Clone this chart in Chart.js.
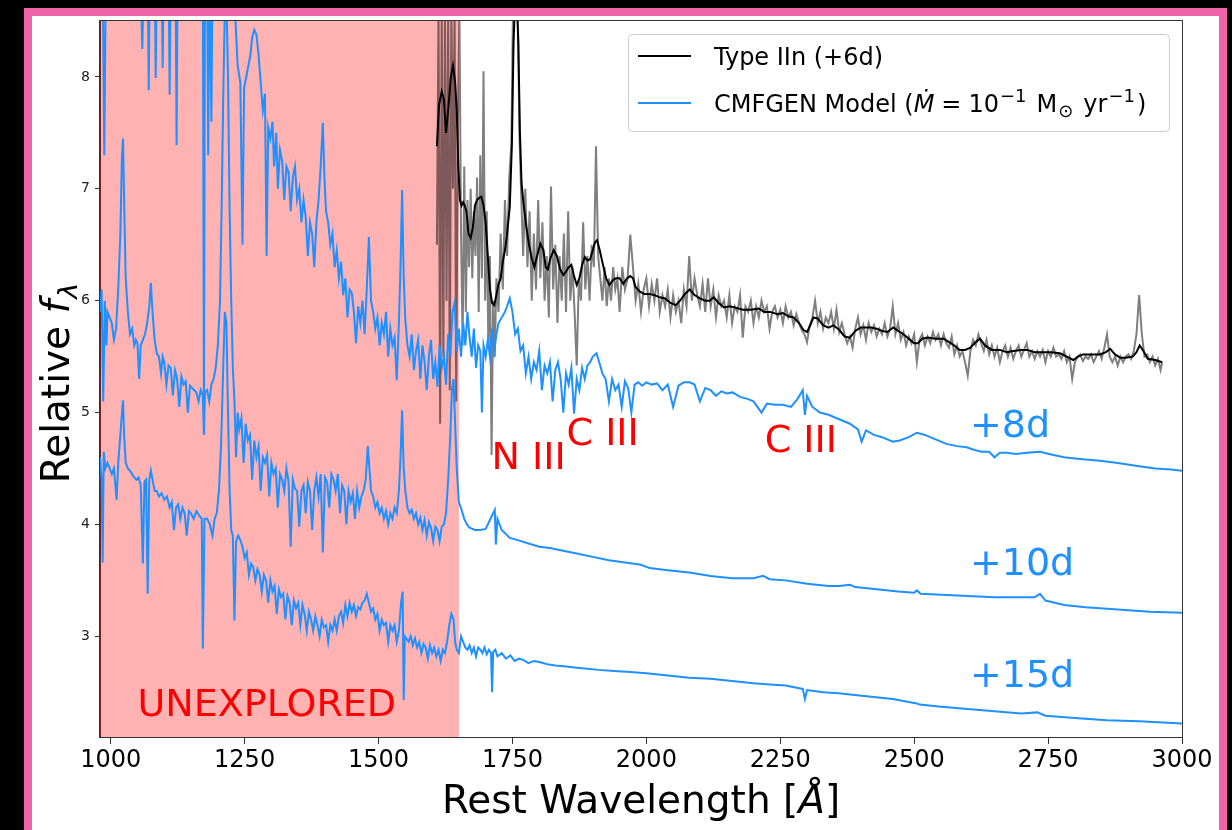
<!DOCTYPE html>
<html>
<head>
<meta charset="utf-8">
<script src="https://cdn.jsdelivr.net/npm/chart.js@4.4.1/dist/chart.umd.min.js"></script>
<style>
  html, body { margin: 0; padding: 0; background: #000; overflow: hidden; }
  #frame { position: absolute; left: 24px; top: 8px; width: 1187px; height: 900px; background: #fff; border: 8px solid #ef64a9; }
  #spec { position: absolute; left: 0; top: 0; }
</style>
</head>
<body>
<div id="frame"><canvas id="spec" width="1187" height="814"></canvas></div>
<script>
// axis ranges and ticks
const xRange = [980, 3000];
const yRange = [2.1, 8.5];
const xTicks = [1000, 1250, 1500, 1750, 2000, 2250, 2500, 2750, 3000];
const yTicks = [3, 4, 5, 6, 7, 8];
const unexplored = [980, 1650];

// CMFGEN model, +8d  [wavelength, flux]
const model8d = [
  [980,9.0],[985,9.0],[988,7.3],[991,9.0],[1000,9.0],[1030,9.0],[1055,9.0],[1059,8.25],[1062,9.0],[1069,9.0],
  [1071,7.88],[1073,9.0],[1082,9.0],[1084,7.99],[1086,9.0],[1095,9.0],[1097,8.08],[1099,9.0],[1108,9.0],[1110,7.84],
  [1112,9.0],[1121,9.0],[1123,7.39],[1125,9.0],[1150,9.0],[1172,9.0],[1174,5.0],[1176,9.0],[1180,9.0],[1182,7.3],
  [1184,9.0],[1188,7.6],[1190,9.0],[1228,9.0],[1232,8.6],[1237,8.1],[1242,7.95],[1246,6.5],[1249,7.9],[1253,8.0],
  [1257,8.1],[1261,8.2],[1264,8.35],[1268,8.42],[1272,8.38],[1276,8.2],[1280,7.95],[1284,7.7],[1288,7.85],[1291,6.4],
  [1294,7.55],[1298,7.45],[1302,7.6],[1305,7.2],[1309,7.5],[1312,7.0],[1316,7.35],[1320,7.25],[1324,6.9],[1328,7.2],
  [1332,7.15],[1336,6.8],[1340,7.1],[1344,7.2],[1348,6.9],[1352,7.0],[1356,6.7],[1360,6.9],[1364,6.75],[1368,6.4],
  [1372,6.7],[1376,6.6],[1380,6.3],[1384,6.7],[1388,6.9],[1392,7.2],[1396,7.59],[1399,7.1],[1402,6.8],[1406,6.7],
  [1410,6.5],[1414,6.6],[1418,6.3],[1422,6.45],[1426,6.2],[1430,6.35],[1434,6.05],[1438,6.2],[1442,5.85],[1446,6.1],
  [1450,6.07],[1454,5.9],[1458,5.62],[1462,5.95],[1466,5.8],[1470,6.0],[1474,5.7],[1478,6.1],[1482,6.57],[1486,6.0],
  [1490,5.9],[1494,5.75],[1498,5.85],[1502,5.6],[1506,5.8],[1510,5.7],[1514,5.9],[1518,5.5],[1522,5.75],[1526,5.6],
  [1530,5.67],[1534,5.29],[1538,5.8],[1541,6.3],[1544,6.99],[1547,6.2],[1550,5.83],[1554,5.6],[1558,5.5],[1562,5.7],
  [1566,5.38],[1570,5.55],[1574,5.65],[1578,5.3],[1582,5.6],[1586,5.45],[1590,5.2],[1594,5.5],[1598,5.65],[1602,5.3],
  [1606,5.45],[1610,5.23],[1614,5.6],[1618,5.4],[1622,5.5],[1626,5.25],[1630,5.7],[1634,5.5],[1638,5.9],[1642,5.98],
  [1646,5.55],[1650,5.75],[1654,5.5],[1658,5.8],[1662,5.6],[1666,5.9],[1670,5.67],[1674,5.5],[1678,5.75],[1682,5.4],
  [1686,5.6],[1690,5.55],[1693,5.0],[1696,5.6],[1700,5.5],[1704,5.65],[1708,5.5],[1712,5.75],[1716,5.55],[1720,5.7],
  [1724,5.8],[1730,5.85],[1736,5.9],[1740,5.95],[1745,6.02],[1750,5.9],[1755,5.7],[1760,5.75],[1765,5.55],[1770,5.6],
  [1775,5.35],[1780,5.5],[1785,5.3],[1790,5.45],[1795,5.38],[1800,5.55],[1805,5.2],[1810,5.42],[1815,5.35],[1820,5.45],
  [1825,5.1],[1830,5.38],[1835,5.45],[1840,5.3],[1845,5.0],[1850,5.35],[1855,5.25],[1860,5.4],[1865,4.99],[1870,5.3],
  [1875,5.2],[1880,5.4],[1885,5.3],[1890,5.42],[1895,5.45],[1900,5.5],[1907,5.53],[1912,5.45],[1918,5.35],[1924,5.3],
  [1930,5.1],[1936,5.3],[1942,5.2],[1948,5.25],[1954,5.05],[1960,5.28],[1966,5.22],[1972,5.0],[1978,5.25],[1985,5.27],
  [1992,5.24],[2000,5.27],[2010,5.25],[2020,5.26],[2030,5.2],[2040,5.25],[2050,5.05],[2060,5.24],[2070,5.27],[2081,5.27],
  [2090,5.25],[2100,5.1],[2110,5.22],[2120,5.2],[2130,5.15],[2140,5.19],[2150,5.17],[2161,5.18],[2175,5.14],[2190,5.12],
  [2200,5.1],[2215,5.0],[2225,5.08],[2240,5.07],[2255,5.07],[2270,5.05],[2282,5.12],[2292,5.2],[2296,4.98],[2300,5.15],
  [2310,5.05],[2324,5.0],[2340,4.98],[2360,4.94],[2380,4.9],[2395,4.85],[2402,4.74],[2410,4.84],[2425,4.8],[2440,4.78],
  [2460,4.74],[2473,4.75],[2490,4.78],[2505,4.82],[2520,4.8],[2540,4.76],[2560,4.72],[2580,4.7],[2598,4.69],[2610,4.67],
  [2625,4.65],[2640,4.65],[2650,4.6],[2660,4.64],[2673,4.64],[2690,4.63],[2710,4.64],[2735,4.65],[2760,4.62],[2780,4.6],
  [2800,4.59],[2820,4.58],[2847,4.57],[2880,4.55],[2920,4.52],[2950,4.5],[2980,4.49],[3000,4.48]
];

// CMFGEN model, +10d
const model10d = [
  [980,5.9],[983,6.1],[986,5.1],[989,6.0],[992,5.6],[994,5.9],[998,5.85],[1002,5.8],[1006,5.65],[1010,5.75],
  [1014,6.1],[1018,6.6],[1021,7.3],[1023,7.45],[1025,6.9],[1028,6.2],[1032,5.9],[1036,5.7],[1040,5.75],[1044,5.6],
  [1047,5.65],[1050,5.62],[1053,5.3],[1056,5.6],[1060,5.65],[1064,5.7],[1068,5.8],[1072,5.95],[1075,6.16],[1078,5.9],
  [1082,5.65],[1086,5.53],[1090,5.5],[1094,5.35],[1097,5.5],[1100,5.45],[1104,5.25],[1108,5.42],[1112,5.4],[1116,5.15],
  [1120,5.38],[1124,5.3],[1128,5.05],[1132,5.32],[1136,5.25],[1140,5.28],[1144,5.0],[1148,5.24],[1152,5.22],[1156,5.2],
  [1160,5.18],[1164,5.1],[1168,5.2],[1172,5.15],[1174,4.8],[1176,5.18],[1180,5.2],[1184,5.1],[1188,5.25],[1192,5.3],
  [1196,5.4],[1200,5.6],[1204,6.0],[1207,6.8],[1210,7.8],[1213,8.6],[1216,8.7],[1219,8.0],[1222,6.8],[1225,6.0],
  [1228,5.4],[1231,5.1],[1234,4.6],[1237,5.0],[1240,4.85],[1244,4.95],[1248,4.55],[1252,4.9],[1256,4.75],[1260,4.8],
  [1264,4.4],[1268,4.75],[1272,4.6],[1276,4.7],[1280,4.3],[1284,4.6],[1288,4.55],[1292,4.62],[1296,4.25],[1300,4.55],
  [1304,4.45],[1308,4.5],[1312,4.15],[1316,4.45],[1320,4.4],[1324,4.3],[1328,4.5],[1332,4.38],[1336,3.8],[1340,4.4],
  [1344,4.32],[1348,4.3],[1352,3.98],[1356,4.3],[1360,4.35],[1364,4.1],[1368,4.38],[1372,4.3],[1376,3.95],[1380,4.3],
  [1384,4.42],[1388,4.25],[1392,4.45],[1396,3.75],[1400,4.42],[1404,4.38],[1408,4.15],[1412,4.45],[1416,4.4],[1420,4.3],
  [1424,4.45],[1428,4.1],[1432,4.35],[1436,4.3],[1440,4.0],[1444,4.3],[1448,4.2],[1452,4.28],[1456,4.05],[1460,4.3],
  [1464,4.15],[1468,4.25],[1472,4.3],[1476,4.4],[1480,4.7],[1483,4.5],[1486,4.3],[1490,4.25],[1494,4.15],[1498,4.2],
  [1502,4.1],[1506,4.15],[1510,4.05],[1514,4.12],[1518,4.0],[1522,4.1],[1526,4.05],[1530,4.15],[1534,4.1],[1538,4.3],
  [1541,4.6],[1544,5.02],[1547,4.5],[1550,4.3],[1554,4.15],[1558,4.1],[1562,4.13],[1566,4.05],[1570,4.1],[1574,4.0],
  [1578,4.06],[1582,3.95],[1586,4.04],[1590,3.9],[1594,4.02],[1598,3.97],[1602,3.85],[1606,3.98],[1610,3.95],[1614,3.85],
  [1618,3.98],[1622,4.0],[1626,4.1],[1630,4.4],[1634,4.8],[1637,5.2],[1640,5.3],[1643,4.9],[1646,4.5],[1650,4.2],
  [1655,4.13],[1660,4.05],[1665,4.0],[1670,3.97],[1680,3.95],[1690,3.95],[1700,3.96],[1706,4.02],[1712,4.08],[1717,4.13],
  [1719,3.82],[1722,4.05],[1730,3.95],[1745,3.88],[1760,3.86],[1780,3.83],[1800,3.8],[1820,3.79],[1840,3.77],[1870,3.74],
  [1900,3.71],[1930,3.68],[1960,3.66],[1990,3.64],[2006,3.61],[2040,3.59],[2080,3.57],[2120,3.54],[2160,3.52],[2200,3.52],
  [2218,3.54],[2230,3.51],[2260,3.5],[2300,3.47],[2340,3.45],[2360,3.45],[2380,3.46],[2390,3.44],[2430,3.42],[2470,3.4],
  [2500,3.39],[2505,3.41],[2512,3.38],[2560,3.37],[2600,3.36],[2650,3.35],[2700,3.35],[2725,3.35],[2735,3.38],[2745,3.32],
  [2780,3.28],[2820,3.26],[2880,3.24],[2940,3.22],[3000,3.21]
];

// CMFGEN model, +15d
const model15d = [
  [980,4.6],[983,4.4],[985,3.66],[987,4.65],[990,4.5],[994,4.55],[998,4.5],[1002,4.45],[1006,4.5],[1011,4.22],
  [1014,4.55],[1018,4.8],[1021,5.0],[1023,5.11],[1025,4.8],[1028,4.55],[1032,4.5],[1036,4.48],[1040,4.45],[1044,4.42],
  [1048,4.4],[1052,4.42],[1056,4.35],[1060,3.65],[1063,4.38],[1066,4.4],[1069,3.38],[1072,4.4],[1075,4.48],[1078,4.4],
  [1082,4.3],[1086,4.3],[1090,4.25],[1095,4.28],[1100,4.22],[1105,4.25],[1110,4.15],[1114,4.2],[1118,3.95],[1122,4.15],
  [1126,4.18],[1130,4.05],[1134,4.15],[1138,4.1],[1142,3.9],[1146,4.12],[1150,4.1],[1155,4.05],[1160,4.12],[1165,4.08],
  [1170,4.05],[1172,2.89],[1175,4.05],[1180,4.05],[1185,4.0],[1190,3.9],[1194,4.05],[1198,4.1],[1202,4.3],[1206,4.7],
  [1210,5.4],[1213,5.9],[1216,5.8],[1219,5.0],[1222,4.3],[1225,3.95],[1228,3.9],[1231,3.14],[1234,3.85],[1238,3.9],
  [1242,3.86],[1246,3.8],[1250,3.7],[1254,3.75],[1258,3.55],[1262,3.65],[1266,3.62],[1270,3.5],[1274,3.6],[1278,3.55],
  [1282,3.4],[1286,3.55],[1290,3.5],[1294,3.3],[1298,3.5],[1302,3.4],[1306,3.45],[1310,3.2],[1314,3.42],[1318,3.35],
  [1322,3.38],[1326,3.15],[1330,3.36],[1334,3.3],[1338,3.1],[1342,3.32],[1346,3.25],[1350,3.3],[1354,3.1],[1358,3.28],
  [1362,3.2],[1366,3.05],[1370,3.22],[1374,3.15],[1378,3.05],[1382,3.18],[1386,3.1],[1390,3.0],[1394,3.15],[1398,3.08],
  [1402,3.1],[1406,2.95],[1410,3.1],[1414,3.05],[1418,3.15],[1422,3.05],[1426,3.18],[1430,3.22],[1434,3.12],[1438,3.28],
  [1442,3.18],[1446,3.3],[1450,3.22],[1454,3.28],[1458,3.18],[1462,3.26],[1466,3.24],[1470,3.3],[1474,3.32],[1478,3.38],
  [1482,3.3],[1486,3.22],[1490,3.25],[1494,3.15],[1498,3.2],[1502,3.05],[1506,3.15],[1510,3.1],[1514,3.12],[1518,2.95],
  [1522,3.1],[1526,3.05],[1530,3.1],[1534,2.95],[1538,3.05],[1542,3.3],[1545,3.4],[1547,2.43],[1549,3.0],[1552,2.98],
  [1556,2.95],[1560,3.0],[1564,2.92],[1568,2.98],[1572,2.9],[1576,2.95],[1580,2.85],[1584,2.93],[1588,2.9],[1592,2.8],
  [1596,2.92],[1600,2.85],[1604,2.9],[1608,2.82],[1612,2.88],[1616,2.78],[1620,2.88],[1624,2.85],[1628,2.95],[1632,3.1],
  [1636,3.2],[1640,3.15],[1643,2.95],[1646,2.88],[1650,2.85],[1654,3.0],[1658,2.95],[1662,2.9],[1666,2.88],[1670,2.92],
  [1674,2.85],[1678,2.9],[1682,2.82],[1686,2.9],[1690,2.88],[1694,2.85],[1698,2.9],[1702,2.84],[1706,2.88],[1710,2.85],
  [1712,2.5],[1714,2.86],[1718,2.88],[1722,2.82],[1730,2.85],[1738,2.8],[1746,2.83],[1754,2.78],[1762,2.8],[1770,2.79],
  [1780,2.76],[1790,2.78],[1800,2.77],[1815,2.75],[1830,2.74],[1850,2.73],[1870,2.72],[1890,2.71],[1910,2.7],[1940,2.69],
  [1970,2.68],[2000,2.67],[2040,2.65],[2080,2.63],[2120,2.62],[2160,2.6],[2200,2.58],[2230,2.57],[2260,2.56],[2292,2.53],
  [2296,2.44],[2300,2.52],[2330,2.5],[2360,2.49],[2380,2.48],[2420,2.46],[2460,2.44],[2505,2.4],[2510,2.39],[2550,2.37],
  [2600,2.35],[2650,2.33],[2700,2.31],[2730,2.32],[2745,2.29],[2800,2.27],[2860,2.25],[2920,2.24],[3000,2.22]
];

// Type IIn (+6d), observed spectrum
const observed = [
  [1609,6.5],[1612,8.6],[1615,4.9],[1618,8.6],[1621,5.5],[1624,8.6],[1627,6.0],[1630,8.6],[1633,5.2],[1636,8.6],
  [1639,7.0],[1642,8.6],[1645,5.1],[1648,7.5],[1651,8.6],[1654,6.6],[1657,5.6],[1660,7.2],[1663,5.9],[1666,6.9],
  [1669,6.3],[1672,7.0],[1675,6.2],[1678,6.8],[1681,6.4],[1684,7.1],[1687,5.9],[1690,7.3],[1693,6.2],[1696,8.05],
  [1699,6.0],[1702,6.8],[1705,5.6],[1708,6.4],[1711,4.62],[1714,6.0],[1717,5.5],[1720,6.2],[1724,5.9],[1728,6.6],
  [1732,6.1],[1736,6.9],[1740,6.4],[1744,7.1],[1748,7.4],[1751,8.6],[1754,8.6],[1757,8.6],[1760,8.6],[1763,7.5],
  [1766,7.0],[1770,6.4],[1774,7.0],[1778,6.3],[1782,6.8],[1786,6.0],[1790,6.6],[1794,6.1],[1798,6.9],[1802,6.2],
  [1806,6.7],[1810,6.0],[1814,6.4],[1818,5.85],[1822,7.02],[1826,6.1],[1830,6.5],[1834,5.8],[1838,6.4],[1842,6.0],
  [1846,6.6],[1850,5.9],[1854,6.8],[1858,6.0],[1862,6.3],[1866,5.9],[1870,5.42],[1874,6.2],[1878,6.0],[1882,6.7],
  [1886,6.1],[1890,6.4],[1894,6.0],[1898,6.5],[1902,6.3],[1906,7.38],[1910,6.4],[1914,6.2],[1918,6.0],[1922,6.3],
  [1926,5.95],[1930,6.2],[1934,6.0],[1938,6.3],[1942,6.1],[1946,6.2],[1950,5.9],[1955,6.3],[1960,6.1],[1965,6.2],
  [1970,6.59],[1975,6.3],[1980,6.0],[1985,6.15],[1990,5.9],[1995,6.1],[2000,6.2],[2005,5.95],[2010,6.15],[2015,6.0],
  [2020,6.2],[2025,5.9],[2030,6.05],[2035,5.95],[2040,6.1],[2045,5.85],[2050,6.05],[2055,5.9],[2060,6.0],[2065,5.8],
  [2070,6.1],[2075,5.95],[2080,6.4],[2085,6.0],[2090,6.2],[2095,6.05],[2100,5.95],[2105,6.15],[2110,5.9],[2115,6.2],
  [2120,5.95],[2125,6.1],[2130,5.85],[2135,6.05],[2140,5.95],[2145,6.0],[2150,5.85],[2155,6.05],[2160,5.8],[2165,5.95],
  [2170,5.9],[2175,6.05],[2180,5.67],[2185,5.95],[2190,5.9],[2195,6.0],[2200,5.8],[2205,5.95],[2210,5.85],[2215,6.0],
  [2220,5.9],[2225,5.95],[2230,5.75],[2235,5.9],[2240,5.95],[2245,5.85],[2250,5.92],[2255,5.8],[2260,5.95],[2265,5.85],
  [2270,5.9],[2275,5.78],[2280,5.88],[2285,5.8],[2290,5.74],[2295,5.7],[2300,5.63],[2305,5.78],[2310,5.85],[2315,6.0],
  [2320,5.8],[2325,5.9],[2330,5.75],[2335,5.85],[2340,5.8],[2345,5.9],[2350,5.75],[2355,5.92],[2360,5.72],[2365,5.8],
  [2370,5.7],[2375,5.62],[2380,5.68],[2385,5.58],[2390,5.75],[2395,5.85],[2400,5.7],[2405,5.78],[2410,5.65],[2415,5.8],
  [2420,5.72],[2425,5.78],[2430,5.68],[2435,5.75],[2440,5.7],[2445,5.8],[2450,5.68],[2455,5.75],[2460,5.95],[2465,5.7],
  [2470,5.8],[2475,5.65],[2480,5.72],[2485,5.6],[2490,5.68],[2495,5.62],[2500,5.7],[2505,5.45],[2510,5.65],[2515,5.7],
  [2520,5.6],[2525,5.68],[2530,5.62],[2535,5.72],[2540,5.65],[2545,5.7],[2550,5.6],[2555,5.7],[2560,5.62],[2565,5.58],
  [2570,5.68],[2575,5.52],[2580,5.6],[2585,5.5],[2590,5.55],[2595,5.45],[2600,5.33],[2605,5.55],[2610,5.65],[2615,5.6],
  [2620,5.7],[2625,5.62],[2630,5.55],[2635,5.65],[2640,5.52],[2645,5.6],[2650,5.5],[2655,5.58],[2660,5.45],[2665,5.55],
  [2670,5.6],[2675,5.5],[2680,5.58],[2685,5.48],[2690,5.55],[2695,5.6],[2700,5.5],[2705,5.56],[2710,5.62],[2715,5.5],
  [2720,5.55],[2725,5.48],[2730,5.55],[2735,5.5],[2740,5.56],[2745,5.45],[2750,5.55],[2755,5.5],[2760,5.58],[2765,5.5],
  [2770,5.52],[2775,5.48],[2780,5.55],[2785,5.45],[2790,5.5],[2795,5.3],[2800,5.45],[2805,5.5],[2810,5.52],[2815,5.46],
  [2820,5.5],[2825,5.48],[2830,5.52],[2835,5.45],[2840,5.5],[2845,5.55],[2850,5.48],[2855,5.58],[2860,5.7],[2865,5.5],
  [2870,5.45],[2875,5.5],[2880,5.42],[2885,5.5],[2890,5.45],[2895,5.5],[2900,5.52],[2905,5.48],[2910,5.55],[2915,5.7],
  [2920,6.05],[2925,5.7],[2930,5.5],[2935,5.52],[2940,5.45],[2945,5.5],[2950,5.42],[2955,5.48],[2960,5.38],[2963,5.45]
];

// Type IIn (+6d), smoothed
const smoothed = [
  [1609,7.38],[1613,7.75],[1618,7.87],[1622,7.8],[1626,7.5],[1630,7.7],[1635,8.0],[1639,8.1],[1643,7.95],[1646,7.7],
  [1649,7.2],[1652,6.9],[1655,6.85],[1658,6.88],[1661,6.85],[1664,6.8],[1668,6.6],[1672,6.56],[1676,6.65],[1680,6.85],
  [1684,6.9],[1688,6.92],[1692,6.93],[1696,6.85],[1700,6.7],[1704,6.4],[1708,6.1],[1712,5.98],[1716,5.96],[1720,6.05],
  [1724,6.15],[1728,6.2],[1732,6.35],[1736,6.45],[1740,6.6],[1745,6.84],[1749,7.4],[1752,8.3],[1755,8.7],[1758,8.7],
  [1761,8.3],[1764,7.5],[1767,7.05],[1771,6.85],[1776,6.66],[1781,6.5],[1786,6.38],[1791,6.3],[1796,6.4],[1802,6.51],
  [1808,6.45],[1812,6.3],[1816,6.28],[1821,6.38],[1827,6.45],[1833,6.4],[1839,6.28],[1845,6.23],[1850,6.26],[1855,6.3],
  [1860,6.32],[1865,6.22],[1870,6.14],[1875,6.2],[1880,6.32],[1885,6.39],[1890,6.36],[1895,6.37],[1900,6.45],[1904,6.52],
  [1908,6.54],[1913,6.45],[1919,6.32],[1925,6.2],[1931,6.14],[1937,6.18],[1943,6.2],[1950,6.2],[1957,6.15],[1964,6.2],
  [1970,6.22],[1975,6.2],[1980,6.12],[1988,6.08],[1996,6.06],[2006,6.06],[2015,6.05],[2025,6.03],[2035,6.02],[2045,5.98],
  [2055,5.96],[2063,6.0],[2072,6.06],[2081,6.1],[2090,6.05],[2100,6.02],[2110,6.0],[2118,6.0],[2126,6.03],[2135,5.98],
  [2145,5.94],[2155,5.95],[2165,5.94],[2180,5.92],[2195,5.92],[2210,5.93],[2220,5.9],[2231,5.9],[2245,5.88],[2255,5.89],
  [2265,5.86],[2275,5.85],[2285,5.8],[2293,5.74],[2300,5.72],[2306,5.78],[2312,5.85],[2320,5.84],[2330,5.78],[2340,5.76],
  [2349,5.78],[2360,5.74],[2370,5.68],[2380,5.67],[2390,5.73],[2400,5.76],[2410,5.76],[2420,5.76],[2430,5.75],[2440,5.73],
  [2450,5.72],[2461,5.76],[2470,5.73],[2480,5.7],[2490,5.66],[2500,5.62],[2507,5.62],[2515,5.66],[2525,5.67],[2540,5.66],
  [2555,5.66],[2565,5.63],[2575,5.6],[2585,5.56],[2595,5.56],[2605,5.58],[2615,5.63],[2623,5.66],[2632,5.6],[2645,5.56],
  [2660,5.56],[2673,5.54],[2685,5.55],[2700,5.56],[2711,5.56],[2725,5.54],[2740,5.54],[2755,5.54],[2772,5.53],[2785,5.5],
  [2797,5.47],[2806,5.5],[2815,5.52],[2830,5.52],[2847,5.52],[2858,5.54],[2866,5.57],[2875,5.52],[2885,5.49],[2895,5.49],
  [2908,5.5],[2915,5.54],[2921,5.6],[2928,5.55],[2936,5.48],[2950,5.47],[2963,5.45]
];

// text annotations, anchored at [wavelength, flux] (left, baseline)
const lineLabels = [
  { text: 'N III', at: [1711, 4.50] },
  { text: 'C III', at: [1851, 4.71] },
  { text: 'C III', at: [2221, 4.645] }
];
const epochLabels = [
  { text: '+8d', at: [2604, 4.78] },
  { text: '+10d', at: [2604, 3.545] },
  { text: '+15d', at: [2604, 2.545] }
];
const regionLabel = { text: 'UNEXPLORED', at: [1050, 2.285] };

const FONT = '"DejaVu Sans", "Liberation Sans", sans-serif';
const BLUE = '#1e90ff';
const toPoints = arr => arr.map(p => ({ x: p[0], y: p[1] }));

function drawParts(ctx, x, y, parts) {
    let cx = x;
    parts.forEach(p => {
        ctx.font = p.font;
        ctx.fillText(p.t, cx, y + (p.dy || 0));
        cx += ctx.measureText(p.t).width + (p.gap || 0);
    });
    return cx;
}
function partsWidth(ctx, parts) {
    let w = 0;
    parts.forEach(p => { ctx.font = p.font; w += ctx.measureText(p.t).width + (p.gap || 0); });
    return w;
}

const bandPlugin = {
    id: 'band',
    beforeDatasetsDraw(chart) {
        const { ctx, chartArea, scales } = chart;
        const x0 = scales.x.getPixelForValue(unexplored[0]);
        const x1 = scales.x.getPixelForValue(unexplored[1]);
        ctx.save();
        ctx.fillStyle = 'rgba(255, 0, 0, 0.3)';
        ctx.fillRect(x0, chartArea.top, x1 - x0, chartArea.bottom - chartArea.top);
        ctx.restore();
    }
};

const decorPlugin = {
    id: 'decor',
    afterDraw(chart) {
        const { ctx, chartArea, scales } = chart;
        const px = v => scales.x.getPixelForValue(v);
        const py = v => scales.y.getPixelForValue(v);
        ctx.save();

        // frame around the axes
        ctx.strokeStyle = '#333';
        ctx.lineWidth = 1;
        ctx.strokeRect(chartArea.left - 0.5, chartArea.top - 0.5,
            chartArea.right - chartArea.left + 1, chartArea.bottom - chartArea.top + 1);

        // annotations
        ctx.textBaseline = 'alphabetic';
        ctx.textAlign = 'left';
        ctx.font = '38px ' + FONT;
        ctx.fillStyle = '#ff0000';
        lineLabels.concat([regionLabel]).forEach(l => ctx.fillText(l.text, px(l.at[0]), py(l.at[1])));
        ctx.fillStyle = BLUE;
        epochLabels.forEach(l => ctx.fillText(l.text, px(l.at[0]), py(l.at[1])));

        // legend
        const bx = 596, by = 18, bw = 541, bh = 97;
        ctx.beginPath();
        ctx.roundRect(bx + 0.5, by + 0.5, bw, bh, 4);
        ctx.fillStyle = 'rgba(255,255,255,0.8)';
        ctx.fill();
        ctx.strokeStyle = '#cccccc';
        ctx.stroke();
        ctx.lineWidth = 2;
        ctx.strokeStyle = '#000';
        ctx.beginPath(); ctx.moveTo(606, 40); ctx.lineTo(659, 40); ctx.stroke();
        ctx.strokeStyle = BLUE;
        ctx.beginPath(); ctx.moveTo(606, 87); ctx.lineTo(659, 87); ctx.stroke();
        ctx.fillStyle = '#000';
        const reg = '24px ' + FONT, ita = 'italic 24px ' + FONT, sml = '18px ' + FONT;
        drawParts(ctx, 682, 49, [{ t: 'Type IIn (+6d)', font: reg }]);
        drawParts(ctx, 682, 96, [
            { t: 'CMFGEN Model (', font: reg },
            { t: '\u1E40', font: ita, gap: 7 },
            { t: '=', font: reg, gap: 7 },
            { t: '10', font: reg, gap: 1 },
            { t: '\u22121', font: sml, dy: -10, gap: 10 },
            { t: 'M', font: reg, gap: 1 },
            { t: '\u2299', font: sml, dy: 5, gap: 10 },
            { t: 'yr', font: reg, gap: 1 },
            { t: '\u22121', font: sml, dy: -10, gap: 2 },
            { t: ')', font: reg }
        ]);

        // axis titles
        const big = '39px ' + FONT, bigI = 'italic 39px ' + FONT;
        const xt = [{ t: 'Rest Wavelength [', font: big }, { t: '\u00C5', font: bigI }, { t: ']', font: big }];
        drawParts(ctx, 609 - partsWidth(ctx, xt) / 2, 797, xt);
        const yt = [{ t: 'Relative ', font: big }, { t: 'f', font: bigI, gap: 1 }, { t: '\u03BB', font: 'italic 27px ' + FONT, dy: 8 }];
        ctx.translate(37, 367);
        ctx.rotate(-Math.PI / 2);
        drawParts(ctx, -partsWidth(ctx, yt) / 2, 0, yt);
        ctx.restore();
    }
};

new Chart(document.getElementById('spec'), {
    type: 'line',
    data: {
        datasets: [
            { label: 'CMFGEN Model', data: toPoints(model8d), borderColor: BLUE, order: 0 },
            { label: 'CMFGEN +10d', data: toPoints(model10d), borderColor: BLUE, order: 0 },
            { label: 'CMFGEN +15d', data: toPoints(model15d), borderColor: BLUE, order: 0 },
            { label: 'Type IIn (+6d)', data: toPoints(smoothed), borderColor: '#000000', order: 1 },
            { label: 'Type IIn raw', data: toPoints(observed), borderColor: 'rgba(0,0,0,0.5)', order: 2 }
        ]
    },
    options: {
        responsive: false,
        animation: false,
        parsing: false,
        normalized: true,
        datasets: { line: { borderWidth: 2, pointRadius: 0, tension: 0, borderJoinStyle: 'miter' } },
        layout: { padding: { left: 0, right: 37, top: 5, bottom: 0 } },
        plugins: { legend: { display: false }, tooltip: { enabled: false } },
        scales: {
            x: {
                type: 'linear',
                min: xRange[0],
                max: xRange[1],
                afterBuildTicks: s => { s.ticks = xTicks.map(v => ({ value: v })); },
                afterFit: s => { s.height = 93; s.paddingLeft = 0; s.paddingRight = 0; },
                ticks: { font: { family: FONT, size: 24 }, color: '#000', padding: 2, maxRotation: 0, autoSkip: false, callback: v => String(v) },
                grid: { drawOnChartArea: false, tickLength: 7, color: '#333' },
                border: { color: '#333' }
            },
            y: {
                min: yRange[0],
                max: yRange[1],
                afterBuildTicks: s => { s.ticks = yTicks.map(v => ({ value: v })); },
                afterFit: s => { s.width = 68; s.paddingTop = 0; s.paddingBottom = 0; },
                ticks: { font: { family: FONT, size: 14 }, color: '#222', padding: 5, callback: v => String(v) },
                grid: { drawOnChartArea: false, tickLength: 5, color: '#333' },
                border: { color: '#333' }
            }
        }
    },
    plugins: [bandPlugin, decorPlugin]
});
</script>
</body>
</html>
